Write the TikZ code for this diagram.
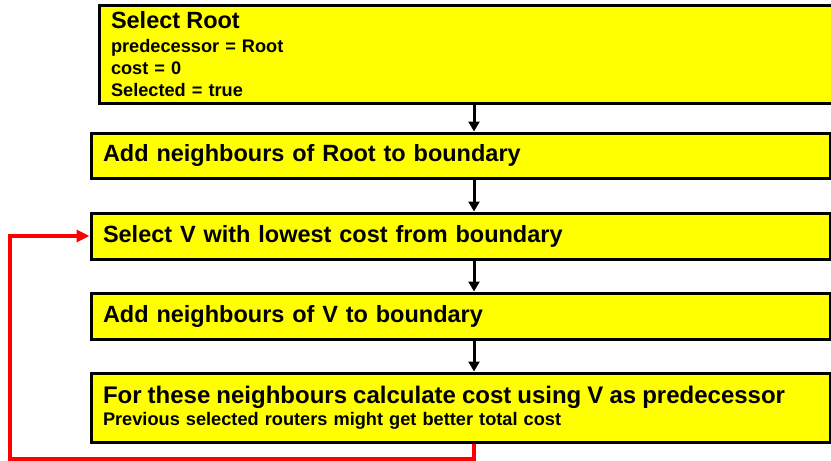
\documentclass[tikz,border=0pt]{standalone}
\usepackage{fontspec}
\setmainfont{Liberation Sans}
\usetikzlibrary{arrows.meta}

\definecolor{stepfill}{RGB}{255,255,0}
\definecolor{looped}{RGB}{255,0,0}

\newcommand{\bigtxt}{\fontsize{23.5}{28}\selectfont}
\newcommand{\smalltxt}{\fontsize{18.2}{22}\selectfont}

\tikzset{
	stepbox/.style={draw=black, line width=3pt, fill=stepfill, anchor=north west,
		align=left, inner xsep=12pt, inner ysep=0pt, text width=715pt,
		font=\bfseries\bigtxt},
	notebox/.style={stepbox, font=\bfseries\smalltxt},
	flow/.style={draw=black, line width=3pt, -{Triangle[length=10pt,width=11pt]}},
	loopback/.style={draw=looped, line width=3.5pt, -{Triangle[length=13pt,width=12pt]}},
}

\begin{document}
\begin{tikzpicture}[x=1pt, y=-1pt]
	\useasboundingbox (0,0) rectangle (831,461);
	% steps
	\node[notebox, text width=721pt, minimum height=98pt] (root) at (97.5,3.5)
		{{\bigtxt Select Root}\\[2pt]predecessor = Root\\cost = 0\\Selected = true};
	\node[stepbox, minimum height=45pt] (addroot) at (89.5,131.5) {Add neighbours of Root to boundary};
	\node[stepbox, minimum height=46pt] (select) at (89.5,211.5) {Select V with lowest cost from boundary};
	\node[stepbox, minimum height=46pt] (addv) at (89.5,291.5) {Add neighbours of V to boundary};
	\node[notebox, minimum height=69pt] (calc) at (89.5,371.5)
		{{\fontsize{24}{28}\selectfont For these neighbours calculate cost using V as predecessor}\\Previous selected routers might get better total cost};
	% arrows
	\coordinate (spine) at (474,0);
	\coordinate (back) at (10,459);
	\draw[flow] (root.south -| spine) -- (addroot.north -| spine);
	\draw[flow] (addroot.south -| spine) -- (select.north -| spine);
	\draw[flow] (select.south -| spine) -- (addv.north -| spine);
	\draw[flow] (addv.south -| spine) -- (calc.north -| spine);
	\draw[loopback] (calc.south -| spine) |- (back) |- (select.west);
\end{tikzpicture}
\end{document}
